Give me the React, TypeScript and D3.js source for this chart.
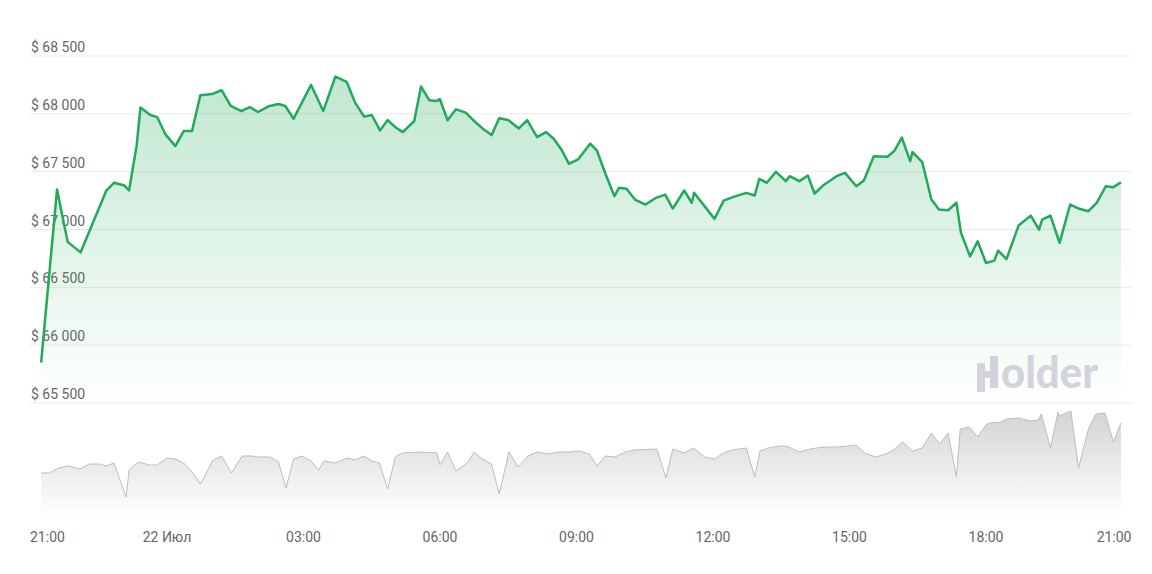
import React from "react";
import * as d3 from "d3";

const priceTimes = [
  "21:14","21:35","21:49","22:06","22:40","22:50","23:04","23:10","23:20","23:25",
  "23:38","23:47","23:58","00:11","00:22","00:33","00:44","01:00","01:12","01:24",
  "01:38","01:49","02:00","02:14","02:27","02:36","02:47","03:10","03:26","03:42",
  "03:57","04:08","04:20","04:30","04:41","04:51","05:02","05:11","05:26","05:35",
  "05:46","05:55","06:00","06:10","06:21","06:34","06:45","06:56","07:08","07:18",
  "07:30","07:44","07:55","08:08","08:20","08:30","08:40","08:50","09:02","09:18",
  "09:27","09:38","09:50","09:56","10:06","10:17","10:31","10:45","10:57","11:07",
  "11:22","11:32","11:35","12:02","12:14","12:27","12:44","12:55","13:01","13:11",
  "13:23","13:36","13:41","13:54","14:05","14:14","14:25","14:43","14:54","15:09",
  "15:19","15:32","15:50","15:59","16:09","16:20","16:23","16:36","16:48","16:58",
  "17:10","17:21","17:27","17:39","17:49","18:00","18:11","18:16","18:27","18:43",
  "18:59","19:10","19:14","19:25","19:37","19:51","20:03","20:15","20:26","20:38",
  "20:48","20:58",
];

const prices = [
  65849,67346,66893,66802,67337,67404,67380,67337,67727,68054,
  67990,67972,67822,67721,67851,67851,68160,68172,68204,68068,
  68024,68059,68016,68065,68085,68068,67958,68250,68024,68322,
  68276,68097,67976,67990,67857,67946,67880,67842,67938,68236,
  68117,68111,68126,67944,68039,68010,67938,67874,67816,67961,
  67946,67874,67946,67799,67842,67785,67692,67568,67606,67742,
  67681,67484,67288,67360,67352,67259,67216,67274,67302,67181,
  67337,67231,67317,67092,67250,67282,67317,67294,67438,67404,
  67499,67418,67461,67418,67467,67311,67380,67461,67490,67374,
  67424,67634,67629,67678,67794,67591,67669,67582,67259,67172,
  67166,67231,66971,66768,66898,66711,66731,66817,66745,67034,
  67120,66999,67086,67120,66884,67216,67179,67158,67231,67374,
  67366,67409,
];

const volumeTimes = [
  "21:14","21:25","21:37","21:50","22:05","22:18","22:31","22:40","22:50","23:06",
  "23:10","23:22","23:37","23:47","00:00","00:11","00:22","00:33","00:44","01:01",
  "01:12","01:25","01:39","01:52","02:00","02:16","02:27","02:37","02:47","02:58",
  "03:10","03:20","03:27","03:42","03:57","04:08","04:20","04:30","04:40","04:51",
  "05:01","05:10","05:34","05:56","06:00","06:10","06:21","06:36","06:45","06:56",
  "07:08","07:18","07:31","07:43","07:56","08:08","08:21","08:38","08:51","09:04",
  "09:17","09:27","09:38","09:51","10:04","10:17","10:46","10:58","11:07","11:22",
  "11:34","11:49","12:02","12:14","12:25","12:44","12:55","13:02","13:13","13:28",
  "13:37","13:54","14:08","14:25","14:45","15:09","15:20","15:34","15:48","15:58",
  "16:10","16:23","16:36","16:48","16:59","17:10","17:21","17:26","17:38","17:49",
  "18:01","18:12","18:17","18:27","18:43","18:58","19:09","19:13","19:25","19:35",
  "19:36","19:52","20:02","20:15","20:25","20:37","20:48","20:58",
];

const volumes = [
  44,44,49,51,48,53,53,51,54,20,
  47,55,52,52,59,58,54,45,33,57,
  61,44,61,61,60,60,55,29,58,61,
  56,47,56,54,59,57,61,56,54,28,
  60,64,65,64,52,65,46,54,65,58,
  53,23,65,50,61,65,63,65,65,66,
  63,51,61,60,65,67,68,39,68,64,
  69,60,58,64,67,69,40,66,69,71,
  71,65,68,70,70,72,64,60,63,67,
  75,66,69,84,73,84,40,88,90,80,
  93,95,94,98,99,96,97,103,69,105,
  101,106,49,88,103,104,75,94,
];

const priceTicks = [65500, 66000, 66500, 67000, 67500, 68000, 68500];
const xTickHours = [0, 3, 6, 9, 12, 15, 18, 21, 24];

const parseT = (s: string) => {
  const [h, m] = s.split(":").map(Number);
  const day = h >= 21 ? 21 : 22;
  return new Date(2024, 6, day, h, m);
};

const W = 1152;
const H = 574;
const start = new Date(2024, 6, 21, 21, 0);
const end = new Date(2024, 6, 22, 21, 0);

export default function App() {
  const x = d3.scaleTime().domain([start, end]).range([30.5, 1122.5]);
  const y = d3.scaleLinear().domain([65500, 68500]).range([403, 56]);
  const yv = d3.scaleLinear().domain([0, 110]).range([517, 407]);

  const pData = priceTimes.map((t, i) => ({ t: parseT(t), v: prices[i] }));
  const vData = volumeTimes.map((t, i) => ({ t: parseT(t), v: volumes[i] }));

  const pLine = d3.line<any>().x(d => x(d.t)).y(d => y(d.v));
  const pArea = d3.area<any>().x(d => x(d.t)).y0(403).y1(d => y(d.v));
  const vLine = d3.line<any>().x(d => x(d.t)).y(d => yv(d.v));
  const vArea = d3.area<any>().x(d => x(d.t)).y0(517).y1(d => yv(d.v));

  const fmtPrice = (v: number) => "$ " + d3.format(",")(v).replace(",", " ");
  const xTicks = xTickHours.map(h => d3.timeHour.offset(start, h));
  const fmtX = (d: Date) =>
    d.getHours() === 0 ? `${d.getDate()} Июл` : d3.timeFormat("%H:%M")(d);

  const font = "Roboto, 'Noto Sans', sans-serif";
  const wm = "#d3d3dd";

  return (
    <svg width={W} height={H} style={{ position: "absolute", left: 0, top: 0, background: "#fff" }}>
      <defs>
        <linearGradient id="pg" gradientUnits="userSpaceOnUse" x1="0" y1="56" x2="0" y2="403">
          <stop offset="0" stopColor="#21aa5a" stopOpacity={0.3} />
          <stop offset="1" stopColor="#21aa5a" stopOpacity={0} />
        </linearGradient>
        <linearGradient id="vg" gradientUnits="userSpaceOnUse" x1="0" y1="407" x2="0" y2="517">
          <stop offset="0" stopColor="#d2d2d2" />
          <stop offset="1" stopColor="#ffffff" />
        </linearGradient>
      </defs>
      {priceTicks.map(t => (
        <g key={t}>
          <line x1={30} x2={1132} y1={y(t)} y2={y(t)} stroke="#ebebeb" strokeWidth={1} />
          <text x={31} y={y(t) - 4} fontSize={14} fill="#666" fontFamily={font}>
            {fmtPrice(t)}
          </text>
        </g>
      ))}
      <path d={vArea(vData) || ""} fill="url(#vg)" />
      <path d={vLine(vData) || ""} fill="none" stroke="#bdbdbd" strokeWidth={1} />
      <path d={pArea(pData) || ""} fill="url(#pg)" />
      <path d={pLine(pData) || ""} fill="none" stroke="#21aa5a" strokeWidth={2.5} strokeLinejoin="round" />
      {xTicks.map((d, i) => {
        const first = i === 0;
        const last = i === xTicks.length - 1;
        const px = first ? 30 : last ? 1131.5 : x(d);
        return (
          <text key={i} x={px} y={541.5} fontSize={14} fill="#666" fontFamily={font}
            textAnchor={first ? "start" : last ? "end" : "middle"}>
            {fmtX(d)}
          </text>
        );
      })}
      <g fill={wm}>
        <rect x={977} y={363} width={8} height={29} />
        <rect x={990} y={356} width={8} height={32} />
        <rect x={984} y={371} width={7} height={7} />
      </g>
      <text x={1001} y={388} fontSize={44} fontWeight={900} fill={wm}
        fontFamily="Lato, 'Open Sans', sans-serif" textLength={97} lengthAdjust="spacingAndGlyphs">
        older
      </text>
    </svg>
  );
}
